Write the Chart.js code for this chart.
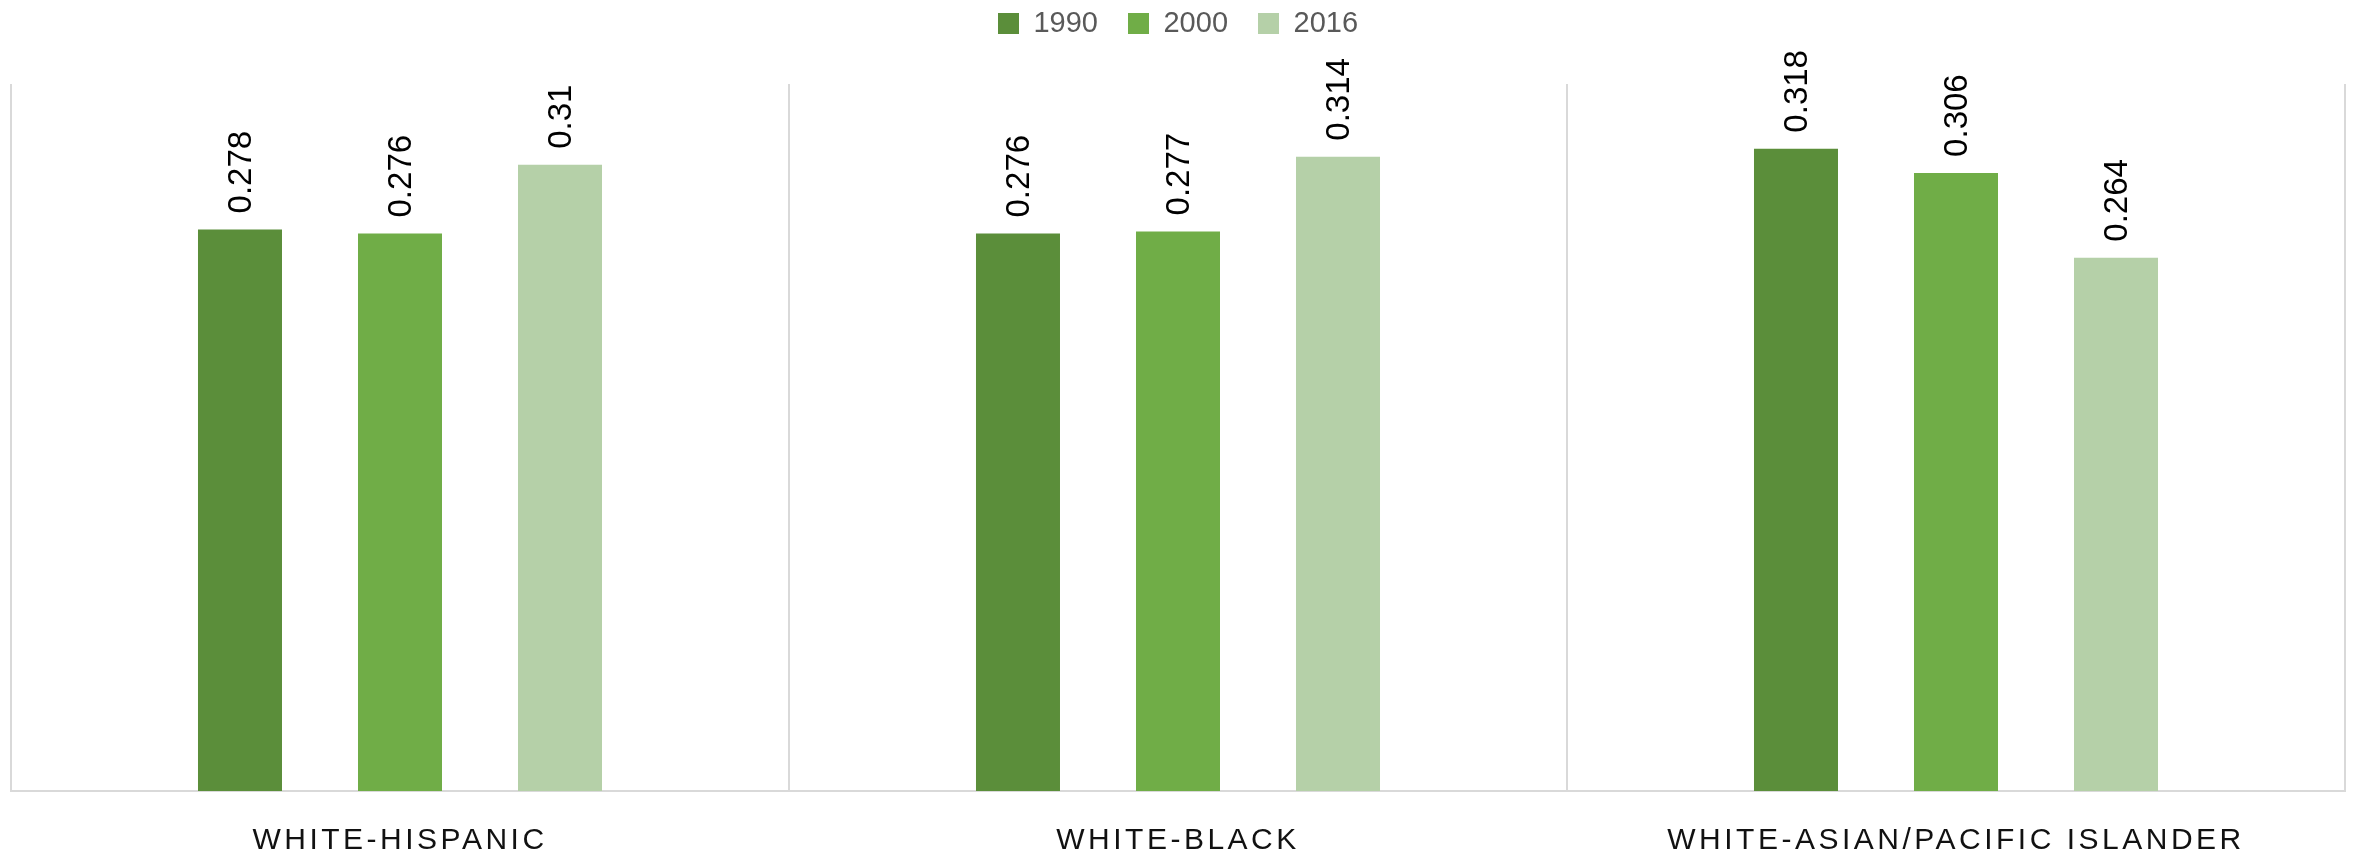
<!DOCTYPE html>
<html>
<head>
<meta charset="utf-8">
<script src="https://cdn.jsdelivr.net/npm/chart.js@4"></script>
<style>
  html, body { margin: 0; padding: 0; background: #ffffff; }
  #wrap { width: 2356px; height: 856px; }
</style>
</head>
<body>
<div id="wrap"><canvas id="c" width="2356" height="856"></canvas></div>
<script>
const categories = ["WHITE-HISPANIC", "WHITE-BLACK", "WHITE-ASIAN/PACIFIC ISLANDER"];
const seriesNames = ["1990", "2000", "2016"];
const values1990 = [0.278, 0.276, 0.318];
const values2000 = [0.276, 0.277, 0.306];
const values2016 = [0.31, 0.314, 0.264];
const seriesColors = ["#5B8E3A", "#70AD47", "#B5D0A8"];

const allValues = [values1990, values2000, values2016];

const barLabels = {
  id: 'barLabels',
  afterDatasetsDraw(chart) {
    const ctx = chart.ctx;
    chart.data.datasets.forEach((ds, di) => {
      const meta = chart.getDatasetMeta(di);
      meta.data.forEach((bar, i) => {
        const v = ds.data[i];
        ctx.save();
        ctx.translate(bar.x + 1.5, bar.y - 16);
        ctx.rotate(-Math.PI / 2);
        ctx.font = '33px "Liberation Sans", Arial, sans-serif';
        ctx.fillStyle = '#000000';
        ctx.textAlign = 'left';
        ctx.textBaseline = 'middle';
        ctx.fillText(String(v), 0, 0);
        ctx.restore();
      });
    });
  }
};

const chart = new Chart(document.getElementById('c'), {
  type: 'bar',
  data: {
    labels: categories,
    datasets: seriesNames.map((name, i) => ({
      label: name,
      data: allValues[i],
      backgroundColor: seriesColors[i],
      borderWidth: 0,
      categoryPercentage: 0.617,
      barPercentage: 0.525
    }))
  },
  options: {
    responsive: false,
    devicePixelRatio: 1,
    animation: false,
    layout: { padding: { left: 11, right: 11, top: 0, bottom: 0 } },
    plugins: {
      tooltip: { enabled: false },
      legend: {
        position: 'top',
        labels: {
          boxWidth: 21,
          boxHeight: 21,
          padding: 30,
          color: '#595959',
          font: { family: '"Liberation Sans", Arial, sans-serif', size: 29 }
        }
      }
    },
    scales: {
      x: {
        grid: { display: true, offset: true, color: '#D9D9D9', lineWidth: 2, drawTicks: false },
        border: { display: true, color: '#D9D9D9', width: 2 },
        ticks: {
          color: '#111111',
          padding: 35,
          maxRotation: 0,
          autoSkip: false,
          font: { family: '"Liberation Sans", Arial, sans-serif', size: 30, lineHeight: 1.0 }
        }
      },
      y: {
        display: false,
        min: 0,
        max: 0.35
      }
    }
  },
  plugins: [barLabels]
});

// Legend: fixed band height above the plot, items drawn slightly higher
const lg = chart.legend;
if (lg) {
  const origFit = lg.fit.bind(lg);
  lg.fit = function () { origFit(); this.height = 84; };
  const origDraw = lg.draw.bind(lg);
  lg.draw = function () {
    const ctx = this.ctx;
    ctx.save();
    ctx.translate(0, -21);
    origDraw();
    ctx.restore();
  };
}
// Category axis: fixed band height and spaced capitals
const xs = chart.scales.x;
if (xs) {
  const origScaleFit = xs.fit.bind(xs);
  xs.fit = function () { origScaleFit(); this.height = 65; };
  const origLabels = xs.drawLabels.bind(xs);
  xs.drawLabels = function (area) {
    const ctx = this.ctx;
    ctx.save();
    try { ctx.letterSpacing = '3.5px'; } catch (e) {}
    origLabels(area);
    ctx.restore();
  };
}
chart.update();
</script>
</body>
</html>
